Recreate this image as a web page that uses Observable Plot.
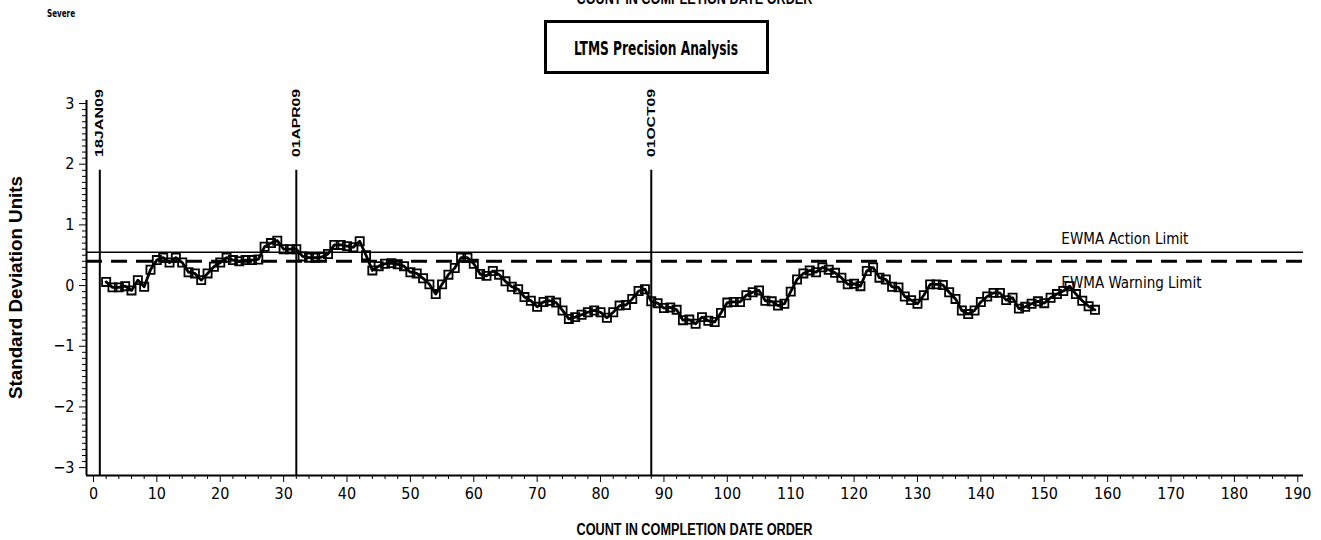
<!DOCTYPE html>
<html>
<head>
<meta charset="utf-8">
<script src="https://cdn.jsdelivr.net/npm/d3@7"></script>
<script src="https://cdn.jsdelivr.net/npm/@observablehq/plot@0.6"></script>
<style>
  body { margin: 0; background: #fff; }
  svg { display: block; }
</style>
</head>
<body>
<div id="chart"></div>
<script>
// ---- data ----
const firstCount = 2;
const ewmaValues = [
  0.06, -0.03, -0.03, -0.01, -0.08, 0.09, -0.02, 0.26, 0.42,            // 2-10
  0.46, 0.38, 0.46, 0.38, 0.22, 0.20, 0.09, 0.20, 0.31, 0.38,           // 11-20
  0.46, 0.42, 0.40, 0.42, 0.42, 0.43, 0.64, 0.70, 0.74, 0.60,           // 21-30
  0.60, 0.60, 0.48, 0.46, 0.46, 0.47, 0.52, 0.67, 0.67, 0.65,           // 31-40
  0.63, 0.73, 0.50, 0.25, 0.32, 0.36, 0.37, 0.35, 0.32, 0.22,           // 41-50
  0.20, 0.12, 0.02, -0.14, 0.02, 0.18, 0.29, 0.46, 0.46, 0.36,          // 51-60
  0.19, 0.16, 0.24, 0.18, 0.07, -0.02, -0.06, -0.19, -0.25, -0.35,      // 61-70
  -0.27, -0.25, -0.28, -0.41, -0.55, -0.52, -0.48, -0.44, -0.41, -0.44, // 71-80
  -0.53, -0.44, -0.33, -0.32, -0.22, -0.09, -0.06, -0.26, -0.29, -0.37, // 81-90
  -0.36, -0.40, -0.57, -0.56, -0.63, -0.52, -0.58, -0.60, -0.45, -0.28, // 91-100
  -0.27, -0.27, -0.16, -0.11, -0.08, -0.25, -0.26, -0.33, -0.30, -0.10, // 101-110
  0.10, 0.20, 0.25, 0.22, 0.30, 0.26, 0.21, 0.13, 0.02, 0.03,           // 111-120
  -0.01, 0.24, 0.30, 0.13, 0.10, -0.02, -0.03, -0.18, -0.24, -0.30,     // 121-130
  -0.16, 0.02, 0.02, 0.01, -0.11, -0.22, -0.41, -0.47, -0.41, -0.27,    // 131-140
  -0.18, -0.12, -0.12, -0.24, -0.20, -0.38, -0.35, -0.30, -0.26, -0.29, // 141-150
  -0.20, -0.14, -0.09, -0.01, -0.14, -0.25, -0.34, -0.40                // 151-158
];
const xTicks = [0, 10, 20, 30, 40, 50, 60, 70, 80, 90, 100, 110, 120, 130, 140, 150, 160, 170, 180, 190];
const yTicks = [-3, -2, -1, 0, 1, 2, 3];
const actionLimit = 0.55;
const warningLimit = 0.40;
const eventCounts = [1, 32, 88];
const eventLabels = ["18JAN09", "01APR09", "01OCT09"];
const limitLabels = ["EWMA Action Limit", "EWMA Warning Limit"];
const titleText = "LTMS Precision Analysis";
const xLabel = "COUNT IN COMPLETION DATE ORDER";
const yLabel = "Standard Deviation Units";
const cornerText = "Severe";

// ---- derived ----
const points = ewmaValues.map((v, i) => ({count: firstCount + i, value: v}));
const xDomain = [-1.1, 190.9];
const yDomain = [-3.13, 3.05];
const xMinor = d3.range(0, 191, 2).filter(d => d % 10 !== 0);
const yMinor = d3.range(-30, 31).map(d => d / 10).filter(d => Math.round(d * 10) % 10 !== 0);
const eventLineTop = 1.9;
const eventLabelBase = 2.11;
const limitLabelCount = 152.7;

const narrow = "'Liberation Sans Narrow', 'DejaVu Sans Condensed', 'Liberation Sans', sans-serif";
const sans = "'Liberation Sans', Arial, sans-serif";

const plot = Plot.plot({
  width: 1321,
  height: 540,
  marginLeft: 86,
  marginRight: 18,
  marginTop: 100,
  marginBottom: 65,
  style: {fontFamily: narrow, fontSize: "16px", color: "black", background: "white", overflow: "visible"},
  x: {domain: xDomain, label: null},
  y: {domain: yDomain, label: null},
  marks: [
    Plot.ruleY([warningLimit], {stroke: "black", strokeWidth: 3, strokeDasharray: "16,9"}),
    Plot.ruleY([actionLimit], {stroke: "black", strokeWidth: 1.6}),
    Plot.ruleX(eventCounts, {y1: yDomain[0], y2: eventLineTop, stroke: "black", strokeWidth: 2}),
    Plot.line(points, {x: "count", y: "value", stroke: "black", strokeWidth: 2.8}),
    Plot.dot(points, {x: "count", y: "value", symbol: "square", r: 4.6, stroke: "black", strokeWidth: 1.8, fill: "none"}),
    Plot.text([limitLabels[0]], {x: limitLabelCount, y: actionLimit, text: d => d, textAnchor: "start", lineAnchor: "bottom", dy: -8, fontSize: 15, fontFamily: narrow, fill: "black"}),
    Plot.text([limitLabels[1]], {x: limitLabelCount, y: warningLimit, text: d => d, textAnchor: "start", lineAnchor: "bottom", dy: 27, fontSize: 15, fontFamily: narrow, fill: "black"}),
    Plot.axisY({ticks: yTicks, tickSize: 7, tickPadding: 5, tickFormat: d3.format("d"), label: null, fontSize: 16}),
    Plot.axisY({ticks: yMinor, tickSize: 4, tickFormat: () => "", label: null}),
    Plot.axisX({ticks: xTicks, tickSize: 7, tickPadding: 5, tickFormat: d3.format("d"), label: null, fontSize: 16}),
    Plot.axisX({ticks: xMinor, tickSize: 4, tickFormat: () => "", label: null}),
    Plot.ruleX([xDomain[0]], {stroke: "black", strokeWidth: 2}),
    Plot.ruleY([yDomain[0]], {stroke: "black", strokeWidth: 2})
  ]
});

document.getElementById("chart").appendChild(plot);

const svg = d3.select(plot);
const sx = plot.scale("x");
const sy = plot.scale("y");
const centerX = (sx.range[0] + sx.range[1]) / 2;

// event date labels (rotated)
eventCounts.forEach((c, i) => {
  const px = sx.apply(c);
  const py = sy.apply(eventLabelBase);
  svg.append("text")
    .attr("transform", `translate(${px + 4},${py}) rotate(-90)`)
    .attr("text-anchor", "start")
    .attr("font-family", sans)
    .attr("font-weight", "bold")
    .attr("font-size", 11.5)
    .attr("textLength", 68)
    .attr("lengthAdjust", "spacingAndGlyphs")
    .attr("fill", "black")
    .text(eventLabels[i]);
});

// corner label
svg.append("text")
  .attr("x", 61).attr("y", 17)
  .attr("font-family", narrow).attr("font-weight", "bold").attr("font-size", 11)
  .attr("textLength", 28).attr("lengthAdjust", "spacingAndGlyphs")
  .text(cornerText);

// clipped repeat of axis label at top
svg.append("text")
  .attr("x", centerX).attr("y", 4)
  .attr("text-anchor", "middle")
  .attr("font-family", sans).attr("font-weight", 900).attr("font-size", 16)
  .attr("textLength", 236).attr("lengthAdjust", "spacingAndGlyphs")
  .text(xLabel);

// title box
svg.append("rect")
  .attr("x", 545.5).attr("y", 21.5).attr("width", 222).attr("height", 51)
  .attr("fill", "white").attr("stroke", "black").attr("stroke-width", 3);
svg.append("text")
  .attr("x", 656).attr("y", 55)
  .attr("text-anchor", "middle")
  .attr("font-family", narrow).attr("font-weight", "bold").attr("font-size", 20)
  .attr("textLength", 164).attr("lengthAdjust", "spacingAndGlyphs")
  .text(titleText);

// x axis label
svg.append("text")
  .attr("x", centerX).attr("y", 535)
  .attr("text-anchor", "middle")
  .attr("font-family", sans).attr("font-weight", 900).attr("font-size", 16)
  .attr("textLength", 236).attr("lengthAdjust", "spacingAndGlyphs")
  .text(xLabel);

// y axis label
svg.append("text")
  .attr("transform", `translate(22,${(sy.range[0] + sy.range[1]) / 2}) rotate(-90)`)
  .attr("text-anchor", "middle")
  .attr("font-family", sans).attr("font-weight", 900).attr("font-size", 18.5)
  .attr("textLength", 223).attr("lengthAdjust", "spacingAndGlyphs")
  .text(yLabel);
</script>
</body>
</html>
